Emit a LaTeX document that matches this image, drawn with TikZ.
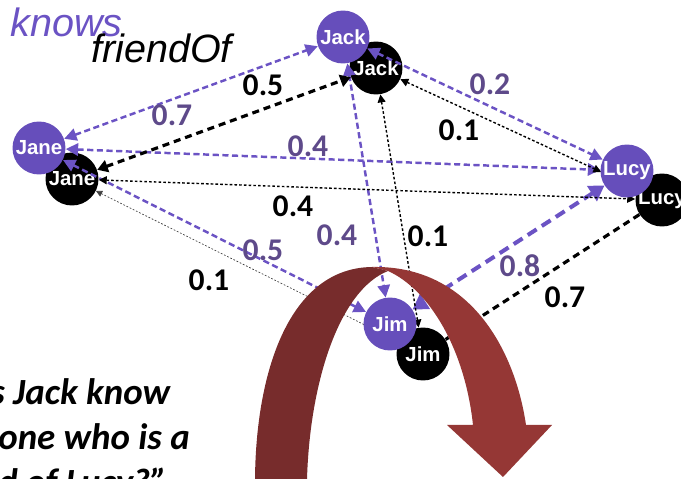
\documentclass[tikz,border=0pt]{standalone}
\usepackage{fontspec}
\setmainfont{Liberation Sans}
\newfontfamily\calibri{Carlito}
\usetikzlibrary{arrows.meta,backgrounds}
\definecolor{kpurple}{HTML}{664EBB}
\definecolor{kedge}{HTML}{6B53C4}
\definecolor{klabel}{HTML}{5E4A8A}
\definecolor{arcback}{HTML}{772C2C}
\definecolor{arcfront}{HTML}{953735}

\begin{document}
\begin{tikzpicture}[x=0.02cm,y=-0.02cm]
        \tikzstyle{person}=[circle,minimum size=1.06cm,inner sep=0pt,text=white,font=\fontsize{11.6}{13}\selectfont\bfseries]
        \tikzstyle{knowsnode}=[person,fill=kpurple]
        \tikzstyle{friendnode}=[person,fill=black]
        \tikzstyle{weight}=[font=\calibri\fontsize{18}{21}\selectfont\bfseries]
        \tikzstyle{kweight}=[weight,text=klabel]
        \tikzstyle{question}=[anchor=base west,inner sep=0pt,font=\calibri\fontsize{21}{25}\selectfont\bfseries\itshape]
        \tikzstyle{kline}=[kedge,line width=1.4pt,dash pattern=on 3.5pt off 2pt,{Triangle[length=7pt,width=7pt]}-{Triangle[length=7pt,width=7pt]}]
        \tikzstyle{kthick}=[kedge,line width=2.3pt,dash pattern=on 6pt off 3.5pt,{Triangle[length=8.5pt,width=10pt]}-{Triangle[length=8.5pt,width=10pt]}]
        \tikzstyle{fthick}=[black,line width=1.8pt,dash pattern=on 4pt off 2.8pt,{Triangle[length=6pt,width=7pt]}-{Triangle[length=6pt,width=7pt]}]
        \tikzstyle{fdot}=[black,line width=0.8pt,dash pattern=on 1.5pt off 1.2pt,{Triangle[length=4.5pt,width=4.5pt]}-{Triangle[length=4.5pt,width=4.5pt]}]
        \tikzstyle{fhair}=[black!75,line width=0.4pt,dash pattern=on 1pt off 1pt,{Triangle[length=3.5pt,width=3.5pt]}-{Triangle[length=3.5pt,width=3.5pt]}]

        \useasboundingbox (0,0) rectangle (681,479);
        \clip (0,0) rectangle (681,479);

        % knows graph
        \node[knowsnode] (kjack) at (343,37) {Jack};
        \node[knowsnode] (kjane) at (39,148) {Jane};
        \node[knowsnode] (klucy) at (627,171) {Lucy};
        \node[knowsnode] (kjim) at (390,324) {Jim};

        \begin{scope}[on background layer]
        % friendOf graph
        \node[friendnode] (fjack) at (376,68) {Jack};
        \node[friendnode] (fjane) at (72,179) {Jane};
        \node[friendnode] (flucy) at (662,200) {Lucy};
        \node[friendnode] (fjim) at (423,354) {Jim};

        \draw[kline] (kjane) -- (kjack);
        \draw[kline] (kjane) -- (klucy);
        \draw[kline] (kjane) -- (kjim);
        \draw[kline] (kjack) -- (klucy);
        \draw[kline] (kjack) -- (kjim);
        \draw[kthick] (klucy) -- (kjim);

        \draw[fthick] (fjane) -- (fjack);
        \draw[fdot] (fjane) -- (flucy);
        \draw[fhair] (fjane) -- (fjim);
        \draw[fdot,shorten >=0.8cm] (fjack) -- (flucy);
        \draw[fdot] (fjack) -- (fjim);
        \draw[fthick,-] (flucy) -- (fjim);
        \end{scope}

        % weights
        \node[kweight] (w1) at (172,115) {0.7};
        \node[weight] (w2) at (263,85) {0.5};
        \node[kweight] (w3) at (308,146) {0.4};
        \node[weight] (w4) at (293,206) {0.4};
        \node[kweight] (w5) at (490,84) {0.2};
        \node[weight] (w6) at (459,130) {0.1};
        \node[kweight] (w7) at (263,250) {0.5};
        \node[weight] (w8) at (209,280) {0.1};
        \node[kweight] (w9) at (337,235) {0.4};
        \node[weight] (w10) at (428,236) {0.1};
        \node[kweight] (w11) at (520,266) {0.8};
        \node[weight] (w12) at (565,297) {0.7};

        % legend
        \node[anchor=base west,inner sep=0pt,text=kedge,font=\fontsize{22.5}{26}\selectfont\itshape] (knows) at (10,37) {knows};
        \node[anchor=base west,inner sep=0pt,font=\fontsize{22.5}{26}\selectfont\itshape] (friendof) at (91,63) {friendOf};

        % the big curved arrow
        \fill[arcback] (255,479) .. controls (256,370) and (290,268) .. (372,267) -- (388,271)
            .. controls (340,290) and (310,380) .. (307,479) -- cycle;
        \fill[arcfront] (372,267) .. controls (470,265) and (515,350) .. (526,425) -- (552,425)
            -- (503,477) -- (447,425) -- (473,425) .. controls (465,350) and (430,290) .. (388,271) -- cycle;

        \node[question] (q1) at (-10,405) {s Jack know};
        \node[question] (q2) at (-2,450) {one who is a};
        \node[question] (q3) at (-2,495) {d of Lucy?”};
\end{tikzpicture}
\end{document}
